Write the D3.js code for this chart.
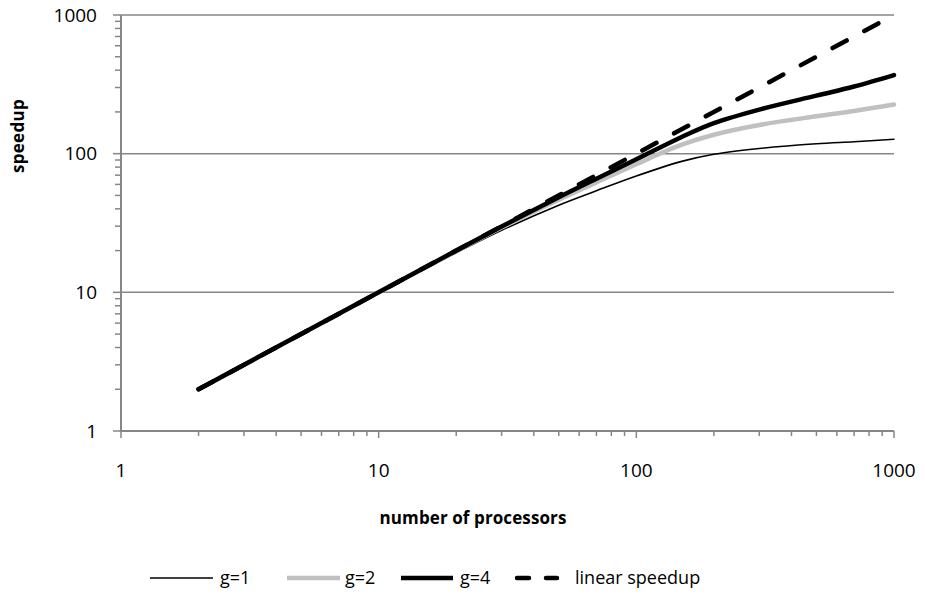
<!DOCTYPE html>
<html>
<head>
<meta charset="utf-8">
<script src="https://cdn.jsdelivr.net/npm/d3@7"></script>
<style>
  body { margin: 0; background: #fff; }
  text { font-family: "Open Sans", "Lato", sans-serif; fill: #000; }
</style>
</head>
<body>
<div id="chart"></div>
<script>
// processors (x) and speedup per grain size
const processors = [2, 5, 10, 20, 30, 50, 70, 100, 150, 200, 300, 500, 700, 1000];
const speedupG1 = [2, 5, 10, 19.3, 28, 42.5, 54, 69, 88, 99, 109, 118, 122, 127];
const speedupG2 = [2, 5, 10, 19.8, 29.3, 46.5, 62, 84, 116, 137, 161, 186, 203, 226];
const speedupG4 = [2, 5, 10, 20, 29.8, 48.5, 66, 91, 132, 166, 208, 262, 305, 369];
const linearX = [2, 1000];
const linearY = [2, 1000];
const tickValues = [1, 10, 100, 1000];
const seriesNames = ["g=1", "g=2", "g=4", "linear speedup"];

const width = 925, height = 600;
const margin = { top: 15, right: 31, bottom: 169, left: 121 };

const svg = d3.select("#chart").append("svg")
  .attr("width", width)
  .attr("height", height);

const x = d3.scaleLog().domain([1, 1000]).range([margin.left, width - margin.right]);
const y = d3.scaleLog().domain([1, 1000]).range([height - margin.bottom, margin.top]);

const axisColor = "#868686";

// horizontal gridlines
svg.append("g")
  .selectAll("line")
  .data(tickValues.slice(1))
  .join("line")
  .attr("x1", x(1)).attr("x2", x(1000))
  .attr("y1", d => y(d)).attr("y2", d => y(d))
  .attr("stroke", axisColor)
  .attr("stroke-width", 1.5);

// all log ticks (majors + minors)
const allTicks = [];
for (let dec = 1; dec < 1000; dec *= 10) {
  for (let k = 1; k < 10; k++) allTicks.push(dec * k);
}
allTicks.push(1000);
const isMajor = d => tickValues.includes(d);

// y axis
const yAxisG = svg.append("g");
yAxisG.append("line")
  .attr("x1", x(1)).attr("x2", x(1))
  .attr("y1", y(1)).attr("y2", y(1000))
  .attr("stroke", axisColor).attr("stroke-width", 2);
yAxisG.selectAll(".ytick")
  .data(allTicks)
  .join("line")
  .attr("class", "ytick")
  .attr("x1", d => x(1) - (isMajor(d) ? 8 : 6)).attr("x2", x(1))
  .attr("y1", d => y(d)).attr("y2", d => y(d))
  .attr("stroke", axisColor).attr("stroke-width", 1.5);
yAxisG.selectAll(".ylabel")
  .data(tickValues)
  .join("text")
  .attr("class", "ylabel")
  .attr("x", 97)
  .attr("y", d => y(d))
  .attr("dy", "0.35em")
  .attr("text-anchor", "end")
  .style("font-size", "19px")
  .text(d => d);

// x axis
const xAxisG = svg.append("g");
xAxisG.append("line")
  .attr("x1", x(1)).attr("x2", x(1000))
  .attr("y1", y(1)).attr("y2", y(1))
  .attr("stroke", axisColor).attr("stroke-width", 2);
xAxisG.selectAll(".xtick")
  .data(allTicks)
  .join("line")
  .attr("class", "xtick")
  .attr("x1", d => x(d)).attr("x2", d => x(d))
  .attr("y1", y(1)).attr("y2", d => y(1) + (isMajor(d) ? 7 : 5))
  .attr("stroke", axisColor).attr("stroke-width", 1.5);
xAxisG.selectAll(".xlabel")
  .data(tickValues)
  .join("text")
  .attr("class", "xlabel")
  .attr("x", d => x(d))
  .attr("y", 470)
  .attr("dy", "0.35em")
  .attr("text-anchor", "middle")
  .style("font-size", "19px")
  .text(d => d);

// axis titles
svg.append("text")
  .attr("x", 473).attr("y", 518)
  .attr("dy", "0.35em")
  .attr("text-anchor", "middle")
  .style("font-size", "17px")
  .style("font-weight", "bold")
  .style("letter-spacing", "0.1px")
  .text("number of processors");

svg.append("text")
  .attr("transform", "translate(18,136) rotate(-90)")
  .attr("dy", "0.35em")
  .attr("text-anchor", "middle")
  .style("font-size", "17px")
  .style("font-weight", "bold")
  .style("letter-spacing", "0.3px")
  .text("speedup");

// series
const line = d3.line()
  .x(d => x(d[0]))
  .y(d => y(d[1]))
  .curve(d3.curveCatmullRom.alpha(0.5));

const series = [
  { name: seriesNames[0], xs: processors, ys: speedupG1, color: "#000", w: 1.6, dash: null },
  { name: seriesNames[1], xs: processors, ys: speedupG2, color: "#c0c0c0", w: 4.5, dash: null },
  { name: seriesNames[2], xs: processors, ys: speedupG4, color: "#000", w: 4.5, dash: null },
  { name: seriesNames[3], xs: linearX, ys: linearY, color: "#000", w: 4.5, dash: "16,20" }
];

svg.append("g")
  .selectAll("path")
  .data(series)
  .join("path")
  .attr("d", s => line(s.xs.map((v, i) => [v, s.ys[i]])))
  .attr("fill", "none")
  .attr("stroke", s => s.color)
  .attr("stroke-width", s => s.w)
  .attr("stroke-linecap", "round")
  .attr("stroke-dasharray", s => s.dash);

// legend
const legendItems = [
  { x1: 150, x2: 213, tx: 220 },
  { x1: 287, x2: 340, tx: 345 },
  { x1: 401, x2: 453, tx: 460 },
  { x1: 517, x2: 557, tx: 575 }
];
const legend = svg.append("g");
series.forEach((s, i) => {
  const it = legendItems[i];
  legend.append("line")
    .attr("x1", it.x1).attr("x2", it.x2)
    .attr("y1", 578).attr("y2", 578)
    .attr("stroke", s.color)
    .attr("stroke-width", s.w)
    .attr("stroke-linecap", s.dash ? "round" : "butt")
    .attr("stroke-dasharray", s.dash ? "12,17" : null);
  legend.append("text")
    .attr("x", it.tx).attr("y", 578)
    .attr("dy", "0.35em")
    .style("font-size", "18px")
    .style("letter-spacing", "0px")
    .text(s.name);
});
</script>
</body>
</html>
